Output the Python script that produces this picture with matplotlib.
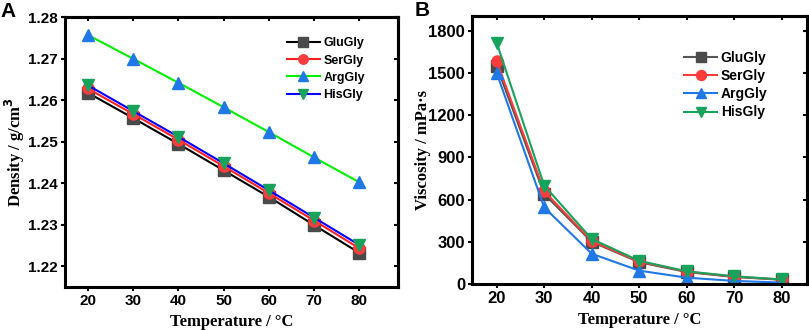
import matplotlib
matplotlib.use("Agg")
import matplotlib.pyplot as plt

temps = [20, 30, 40, 50, 60, 70, 80]
names = ["GluGly", "SerGly", "ArgGly", "HisGly"]

dens_glu = [1.2618, 1.2557, 1.2495, 1.2431, 1.2367, 1.2299, 1.2232]
dens_ser = [1.2628, 1.2567, 1.2505, 1.2441, 1.2376, 1.2310, 1.2243]
dens_arg = [1.2757, 1.2700, 1.2642, 1.2583, 1.2523, 1.2462, 1.2402]
dens_his = [1.2636, 1.2574, 1.2512, 1.2448, 1.2383, 1.2317, 1.2251]

visc_glu = [1550, 640, 300, 155, 85, 50, 30]
visc_ser = [1585, 660, 305, 160, 88, 52, 32]
visc_arg = [1500, 545, 215, 95, 45, 22, 10]
visc_his = [1715, 700, 320, 165, 90, 55, 32]

markers = ["s", "o", "^", "v"]
A_line = ["black", "#ff2020", "#00ee00", "#0000ff"]
A_mark = ["#4a4a4a", "#ff3b3b", "#1f78e6", "#18a35c"]
B_line = ["#555555", "#ff3b3b", "#1f78e6", "#18a35c"]
B_mark = ["#4a4a4a", "#ff3b3b", "#1f78e6", "#18a35c"]

fig = plt.figure(figsize=(8.09, 3.30), dpi=100)
axA = fig.add_axes([0.0803, 0.1303, 0.4116, 0.818])
axB = fig.add_axes([0.5834, 0.1394, 0.414, 0.812])

labfont = dict(family="Liberation Serif", weight="bold", size=12)

def style(ax, tsize):
    for s in ax.spines.values():
        s.set_linewidth(2.2)
    ax.tick_params(axis="both", which="major", direction="out", length=3, width=1.5,
                   top=False, right=False, pad=2)
    for lab in ax.get_xticklabels() + ax.get_yticklabels():
        lab.set_fontfamily("Liberation Sans")
        lab.set_fontweight("bold")
        lab.set_fontsize(tsize)
    axt = ax.secondary_xaxis("top")
    axt.set_xticks(ax.get_xticks())
    axt.tick_params(direction="in", length=3, width=1.5, labeltop=False)
    axt.spines["top"].set_linewidth(2.2)
    axr = ax.secondary_yaxis("right")
    axr.set_yticks(ax.get_yticks())
    axr.tick_params(direction="in", length=3, width=1.5, labelright=False)
    axr.spines["right"].set_linewidth(2.2)

dens = [dens_glu, dens_ser, dens_arg, dens_his]
for i, name in enumerate(names):
    axA.plot(temps, dens[i], color=A_line[i], lw=1.5, marker=markers[i], ms=8,
             mfc=A_mark[i], mec=A_mark[i], label=name)
axA.set_xlim(15, 88.5)
axA.set_ylim(1.215, 1.28)
axA.set_xticks(temps)
axA.set_yticks([1.22, 1.23, 1.24, 1.25, 1.26, 1.27, 1.28])
axA.set_yticklabels(["1.22", "1.23", "1.24", "1.25", "1.26", "1.27", "1.28"])
axA.set_xlabel("Temperature / \u00b0C", **labfont, labelpad=4.5)
axA.set_ylabel("Density / g/cm$^\\mathbf{3}$", **labfont)
axA.yaxis.set_label_coords(-0.115, 0.5)
style(axA, 11)
axA.legend(loc="upper left", bbox_to_anchor=(0.667, 0.925), frameon=False,
           borderpad=0, borderaxespad=0,
           prop=dict(family="Liberation Sans", weight="bold", size=9),
           handlelength=2.6, handletextpad=0.3, labelspacing=0.42, markerscale=0.85)

visc = [visc_glu, visc_ser, visc_arg, visc_his]
for i, name in enumerate(names):
    axB.plot(temps, visc[i], color=B_line[i], lw=1.5, marker=markers[i], ms=8,
             mfc=B_mark[i], mec=B_mark[i], label=name)
axB.set_xlim(14.8, 85.3)
axB.set_ylim(0, 1905)
axB.set_xticks(temps)
axB.set_yticks([0, 300, 600, 900, 1200, 1500, 1800])
axB.set_xlabel("Temperature / \u00b0C", **labfont, labelpad=4.5)
axB.set_ylabel("Viscosity / mPa\u00b7s", **labfont)
axB.yaxis.set_label_coords(-0.122, 0.5)
style(axB, 12)
axB.legend(loc="upper left", bbox_to_anchor=(0.633, 0.87), frameon=False,
           borderpad=0, borderaxespad=0,
           prop=dict(family="Liberation Sans", weight="bold", size=10),
           handlelength=2.4, handletextpad=0.25, labelspacing=0.3, markerscale=0.9)

fig.text(0.001, 0.995, "A", ha="left", va="top", fontfamily="Liberation Sans",
         fontweight="bold", fontsize=15)
fig.text(0.512, 0.998, "B", ha="left", va="top", fontfamily="Liberation Sans",
         fontweight="bold", fontsize=15)

fig.savefig("out.png", dpi=100)
